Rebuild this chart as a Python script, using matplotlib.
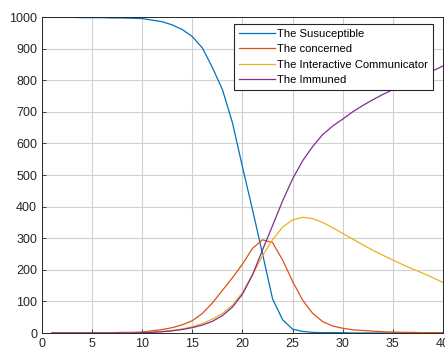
import matplotlib
matplotlib.use("Agg")
import matplotlib.pyplot as plt

days = list(range(1, 41))
susceptible = [999, 999, 999, 998, 998, 998, 997, 997, 996, 995,
               990, 985, 975, 960, 938, 902, 840, 770, 665, 525,
               390, 250, 108, 42, 12, 5, 2, 1, 1, 1,
               0, 0, 0, 0, 0, 0, 0, 0, 0, 0]
concerned = [1, 1, 1, 1, 1, 1, 1, 2, 2, 3,
             7, 11, 17, 26, 39, 62, 95, 135, 175, 218,
             268, 295, 286, 231, 163, 104, 62, 36, 22, 15,
             10, 8, 6, 4, 3, 2, 2, 1, 1, 1]
communicator = [0, 0, 0, 0, 0, 0, 0, 0, 1, 1,
                3, 5, 8, 13, 20, 30, 44, 62, 88, 128,
                185, 245, 295, 335, 358, 366, 362, 350, 333, 315,
                297, 279, 262, 246, 231, 216, 202, 189, 175, 160]
immuned = [0, 0, 0, 0, 0, 0, 0, 0, 0, 1,
           2, 4, 7, 11, 17, 25, 37, 55, 82, 123,
           184, 263, 340, 418, 488, 545, 590, 628, 655, 677,
           700, 720, 738, 755, 770, 785, 800, 815, 830, 845]
labels = ["The Susuceptible", "The concerned", "The Interactive Communicator", "The Immuned"]
colors = ["#0072BD", "#D95319", "#EDB120", "#7E2F8E"]

plt.rcParams['font.family'] = ['Liberation Sans', 'DejaVu Sans']
fig = plt.figure(figsize=(4.45, 3.52), dpi=100)
ax = fig.add_axes([42/445, 19/352, 401/445, 316/352])

for series, lab, c in zip([susceptible, concerned, communicator, immuned], labels, colors):
    ax.plot(days, series, color=c, lw=0.9, label=lab)

ax.set_xlim(0, 40)
ax.set_ylim(0, 1000)
ax.set_xticks(range(0, 41, 5))
ax.set_yticks(range(0, 1001, 100))
ax.grid(True, color="#d0d0d0", lw=0.8)
ax.set_axisbelow(True)
ax.tick_params(direction="in", labelsize=9, length=3, colors="#262626", width=0.6)
for s in ax.spines.values():
    s.set_color("#262626")
    s.set_linewidth(0.7)

leg = ax.legend(loc="upper right", bbox_to_anchor=(0.975, 0.978), fontsize=8.1,
                handlelength=3.2, handletextpad=0.15, borderpad=0.45, labelspacing=0.48,
                fancybox=False, framealpha=1, edgecolor="#262626", borderaxespad=0)
leg.get_frame().set_linewidth(0.8)

fig.savefig("out.png", dpi=100)
